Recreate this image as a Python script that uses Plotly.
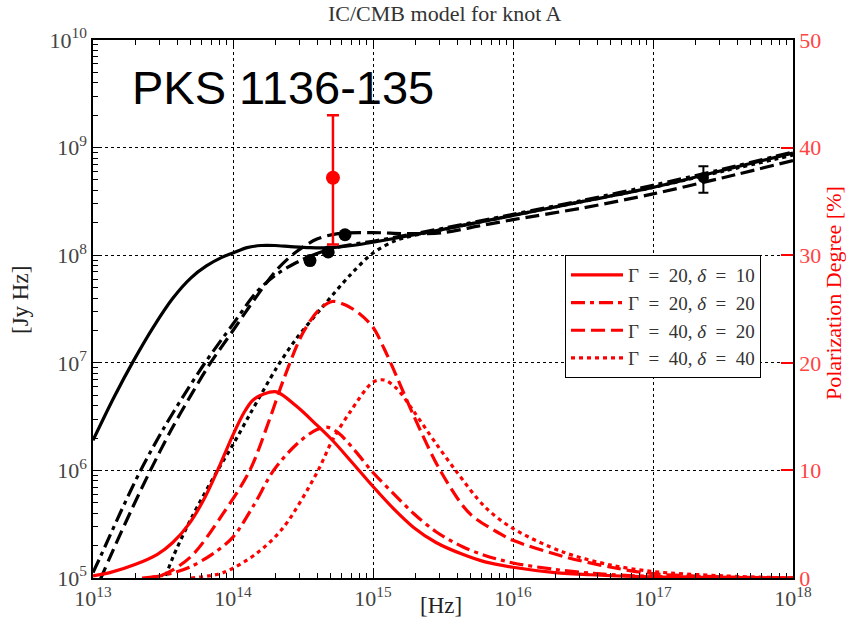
import numpy as np
import plotly.graph_objects as go

# ---------------- data ----------------
# black curves: log10(nu [Hz]) and log10(nuF_nu [Jy Hz])
sol_lx = [13.0, 13.15, 13.29, 13.43, 13.57, 13.7, 13.81, 13.92, 14.0, 14.1, 14.2, 14.3, 14.41, 14.55, 14.7, 14.85, 15.0, 15.5, 16.0, 16.5, 17.0, 17.5, 18.0]
sol_ly = [6.28, 6.68, 7.02, 7.33, 7.6, 7.79, 7.9, 7.98, 8.02, 8.07, 8.09, 8.09, 8.08, 8.07, 8.07, 8.09, 8.12, 8.24, 8.37, 8.5, 8.63, 8.79, 8.95]

dd_lx = [13.0, 13.05, 13.2, 13.34, 13.5, 13.65, 13.8, 14.0, 14.17, 14.31, 14.45, 14.55, 14.7, 14.85, 15.0, 15.5, 16.0, 16.5, 17.0, 17.5, 18.0]
dd_ly = [5.05, 5.19, 5.62, 6.0, 6.38, 6.7, 7.0, 7.36, 7.66, 7.82, 7.93, 7.99, 8.06, 8.1, 8.13, 8.25, 8.38, 8.51, 8.65, 8.8, 8.96]

da_lx = [13.05, 13.12, 13.27, 13.41, 13.56, 13.7, 13.83, 14.0, 14.17, 14.31, 14.45, 14.6, 14.75, 15.0, 15.25, 15.5, 15.75, 16.0, 16.5, 17.0, 17.5, 18.0]
da_ly = [4.98, 5.19, 5.62, 6.0, 6.38, 6.7, 6.98, 7.3, 7.62, 7.86, 8.03, 8.15, 8.2, 8.21, 8.2, 8.21, 8.27, 8.33, 8.44, 8.57, 8.72, 8.88]

do_lx = [13.5, 13.57, 13.7, 13.89, 14.0, 14.12, 14.31, 14.45, 14.64, 14.84, 15.0, 15.17, 15.35, 15.5, 16.0, 16.5, 17.0, 17.5, 18.0]
do_ly = [4.95, 5.19, 5.55, 6.0, 6.24, 6.52, 6.95, 7.22, 7.52, 7.82, 8.02, 8.14, 8.2, 8.24, 8.37, 8.5, 8.63, 8.78, 8.93]

# red curves: log10(nu) and polarization degree [%]
p_sol_lx = [13.0, 13.12, 13.3, 13.46, 13.57, 13.69, 13.8, 13.89, 14.0, 14.08, 14.14, 14.22, 14.31, 14.45, 14.6, 14.71, 14.84, 15.0, 15.15, 15.29, 15.45, 15.64, 15.8, 16.0, 16.3, 16.55, 17.0, 17.5, 18.0]
p_sol_y = [0.2, 0.5, 1.25, 2.2, 3.3, 5.1, 7.5, 10.0, 13.3, 15.4, 16.5, 17.1, 17.3, 16.0, 14.2, 12.8, 10.9, 8.5, 6.4, 4.7, 3.3, 2.2, 1.5, 1.0, 0.5, 0.3, 0.1, 0.05, 0.0]

p_dd_lx = [13.4, 13.55, 13.69, 13.85, 14.0, 14.15, 14.29, 14.46, 14.6, 14.68, 14.76, 14.88, 15.0, 15.15, 15.29, 15.45, 15.64, 15.8, 16.0, 16.3, 16.6, 17.0, 17.5, 18.0]
p_dd_y = [0.0, 0.4, 1.0, 2.2, 3.8, 6.8, 10.0, 12.5, 13.8, 14.0, 13.4, 11.7, 9.8, 7.8, 6.0, 4.3, 2.9, 2.1, 1.4, 0.8, 0.4, 0.15, 0.05, 0.0]

p_da_lx = [13.35, 13.5, 13.7, 13.93, 14.12, 14.26, 14.36, 14.5, 14.62, 14.71, 14.8, 14.9, 15.0, 15.08, 15.17, 15.29, 15.48, 15.69, 15.91, 16.0, 16.36, 16.7, 17.0, 17.5, 18.0]
p_da_y = [0.0, 0.3, 2.0, 6.0, 10.0, 14.7, 18.4, 22.8, 25.0, 25.7, 25.4, 24.6, 23.3, 21.3, 18.7, 15.1, 10.0, 6.0, 4.1, 3.5, 2.0, 1.0, 0.4, 0.1, 0.0]

p_do_lx = [13.7, 13.93, 14.17, 14.36, 14.6, 14.71, 14.84, 15.0, 15.08, 15.17, 15.29, 15.45, 15.59, 15.8, 16.0, 16.36, 16.7, 17.0, 17.5, 18.0]
p_do_y = [0.0, 0.5, 2.3, 4.7, 9.8, 12.8, 15.5, 18.2, 18.4, 17.6, 15.5, 12.5, 10.0, 6.6, 4.6, 2.4, 1.2, 0.6, 0.2, 0.0]

# observed points
obs_lx = [14.55, 14.68, 14.8]
obs_ly = [7.95, 8.03, 8.19]
xr_lx = 17.36
xr_flux = 5.25e8
xr_err = 1.45e8
pol_lx = 14.714
pol_val = 37.2
pol_up = 5.8
pol_dn = 6.2

E = "\u2002"  # en space, to mimic the wide math spacing of the original
labels = [f"Γ{E}={E}20, <i>δ</i>{E}={E}10", f"Γ{E}={E}20, <i>δ</i>{E}={E}20",
          f"Γ{E}={E}40, <i>δ</i>{E}={E}20", f"Γ{E}={E}40, <i>δ</i>{E}={E}40"]

xticks = [13, 14, 15, 16, 17, 18]
yticks = [5, 6, 7, 8, 9, 10]
y2ticks = [0, 10, 20, 30, 40, 50]

# ---------------- figure ----------------
RED = "#ff0000"
SERIF = "Liberation Serif, DejaVu Serif, serif"
dashes = ["solid", "14px,5px,4px,5px", "14px,6px", "4px,4px"]
W = 3.2

fig = go.Figure()

def p10(a):
    return 10 ** np.array(a, dtype=float)

for lx, ly, d in [(sol_lx, sol_ly, dashes[0]), (dd_lx, dd_ly, dashes[1]),
                  (da_lx, da_ly, dashes[2]), (do_lx, do_ly, dashes[3])]:
    fig.add_trace(go.Scatter(x=p10(lx), y=p10(ly), mode="lines",
                             line=dict(color="black", width=W, dash=d, shape="spline", smoothing=0.9),
                             showlegend=False, yaxis="y"))

for lx, py, d, lab in [(p_sol_lx, p_sol_y, dashes[0], labels[0]),
                       (p_dd_lx, p_dd_y, dashes[1], labels[1]),
                       (p_da_lx, p_da_y, dashes[2], labels[2]),
                       (p_do_lx, p_do_y, dashes[3], labels[3])]:
    fig.add_trace(go.Scatter(x=p10(lx), y=py, mode="lines", name=lab,
                             line=dict(color=RED, width=W, dash=d, shape="spline", smoothing=0.9),
                             yaxis="y2"))

fig.add_trace(go.Scatter(x=p10(obs_lx), y=p10(obs_ly), mode="markers",
                         marker=dict(color="black", size=13), showlegend=False, yaxis="y"))
fig.add_trace(go.Scatter(x=[10 ** xr_lx], y=[xr_flux], mode="markers",
                         marker=dict(color="black", size=11),
                         error_y=dict(type="data", array=[xr_err], arrayminus=[xr_err],
                                      color="black", thickness=2, width=5),
                         showlegend=False, yaxis="y"))
fig.add_trace(go.Scatter(x=[10 ** pol_lx], y=[pol_val], mode="markers",
                         marker=dict(color=RED, size=14),
                         error_y=dict(type="data", array=[pol_up], arrayminus=[pol_dn],
                                      color=RED, thickness=2.5, width=6),
                         showlegend=False, yaxis="y2"))

fig.update_layout(
    width=850, height=635,
    margin=dict(l=93, r=57, t=40, b=57),
    paper_bgcolor="white", plot_bgcolor="white",
    font=dict(family=SERIF, size=21, color="#333333"),
    xaxis=dict(type="log", range=[13, 18],
               tickmode="array", tickvals=[10.0 ** k for k in xticks],
               ticktext=[f"10<sup>{k}</sup>" for k in xticks],
               ticks="inside", ticklen=9, tickcolor="black", tickwidth=1,
               showline=True, linecolor="black", linewidth=1.5, mirror="ticks",
               showgrid=True, gridcolor="black", griddash="dot", gridwidth=1,
               minor=dict(dtick="D1", ticks="inside", ticklen=5, tickcolor="black", showgrid=False),
               tickfont=dict(size=22, color="#444444"), zeroline=False),
    yaxis=dict(type="log", range=[5, 10],
               tickmode="array", tickvals=[10.0 ** k for k in yticks],
               ticktext=[f"10<sup>{k}</sup>" for k in yticks],
               ticks="inside", ticklen=9, tickcolor="black", tickwidth=1,
               showline=True, linecolor="black", linewidth=1.5,
               showgrid=True, gridcolor="black", griddash="dot", gridwidth=1,
               minor=dict(dtick="D1", ticks="inside", ticklen=5, tickcolor="black", showgrid=False),
               tickfont=dict(size=22, color="#444444"), zeroline=False),
    yaxis2=dict(overlaying="y", side="right", range=[0, 50],
                tickmode="array", tickvals=y2ticks,
                ticks="inside", ticklen=12, tickcolor=RED, tickwidth=1.5,
                showline=True, linecolor="black", linewidth=1.5,
                showgrid=False, zeroline=False,
                tickfont=dict(size=22, color="#ff4444")),
    legend=dict(x=(565 - 93) / 700, y=(578 - 255) / 538, xanchor="left", yanchor="top",
                bgcolor="white", bordercolor="black", borderwidth=1,
                font=dict(family=SERIF, size=19, color="#333333"),
                tracegroupgap=0, itemwidth=52),
    annotations=[
        dict(text="PKS 1136-135", xref="paper", yref="paper",
             x=(130 - 93) / 700, y=(578 - 88) / 538, xanchor="left", yanchor="middle",
             showarrow=False, font=dict(family="Liberation Sans, Arial, sans-serif", size=47, color="black")),
        dict(text="IC/CMB model for knot A", xref="paper", yref="paper",
             x=(445 - 93) / 700, y=(578 - 13) / 538, xanchor="center", yanchor="middle",
             showarrow=False, font=dict(family=SERIF, size=22, color="#333333")),
        dict(text="[Hz]", xref="paper", yref="paper",
             x=(441 - 93) / 700, y=(578 - 605) / 538, xanchor="center", yanchor="middle",
             showarrow=False, font=dict(family=SERIF, size=23, color="#222222")),
        dict(text="[Jy Hz]", xref="paper", yref="paper", textangle=-90,
             x=(20 - 93) / 700, y=(578 - 300) / 538, xanchor="center", yanchor="middle",
             showarrow=False, font=dict(family=SERIF, size=23, color="#222222")),
        dict(text="Polarization Degree [%]", xref="paper", yref="paper", textangle=-90,
             x=(833 - 93) / 700, y=(578 - 293) / 538, xanchor="center", yanchor="middle",
             showarrow=False, font=dict(family=SERIF, size=22, color=RED)),
    ],
)

fig.write_html("out.html")
